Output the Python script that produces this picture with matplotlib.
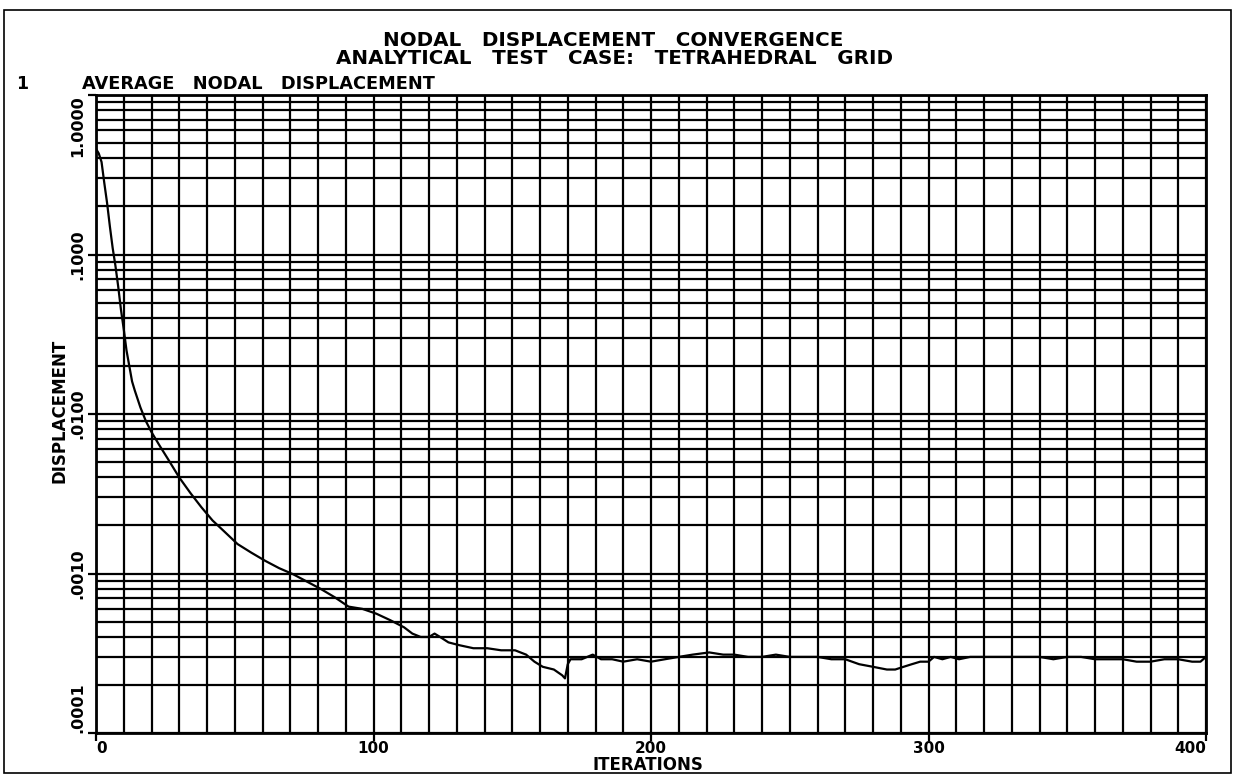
import matplotlib
matplotlib.use("Agg")
import matplotlib.pyplot as plt
from matplotlib.patches import Rectangle
import numpy as np

# ---------------- data ----------------
iterations = [0, 1, 2, 3, 4, 5, 6, 7, 8, 9, 10, 11, 12, 13, 14, 16, 18, 20, 23, 26,
              30, 34, 38, 42, 46, 51, 56, 61, 66, 71, 76, 81, 86, 91, 96, 101, 106,
              111, 114, 117, 120, 122, 124, 127, 131, 136, 141, 146, 151, 155, 158,
              161, 165, 168, 169, 170, 171, 175, 179, 182, 186, 190, 195, 200, 205,
              210, 215, 221, 226, 230, 235, 240, 245, 250, 255, 260, 265, 270, 275,
              280, 285, 288, 291, 294, 297, 300, 302, 305, 308, 311, 315, 320, 325,
              330, 335, 340, 345, 350, 355, 360, 365, 370, 375, 380, 385, 390, 395,
              398, 400]
displacement = [0.46, 0.43, 0.38, 0.28, 0.21, 0.15, 0.11, 0.085, 0.063, 0.045, 0.034,
                0.025, 0.020, 0.016, 0.0140, 0.0110, 0.0090, 0.0077, 0.0063, 0.0052,
                0.0040, 0.0032, 0.0026, 0.00215, 0.00185, 0.00153, 0.00135, 0.00120,
                0.00108, 0.00099, 0.00089, 0.00080, 0.00071, 0.00062, 0.00060, 0.00056,
                0.00051, 0.00046, 0.00042, 0.00040, 0.00040, 0.00042, 0.00040, 0.00037,
                0.000355, 0.00034, 0.00034, 0.00033, 0.00033, 0.00031, 0.00028, 0.00026,
                0.00025, 0.00023, 0.00022, 0.00027, 0.00029, 0.00029, 0.00031, 0.00029,
                0.00029, 0.00028, 0.00029, 0.00028, 0.00029, 0.00030, 0.00031, 0.00032,
                0.00031, 0.00031, 0.00030, 0.00030, 0.00031, 0.00030, 0.00030, 0.00030,
                0.00029, 0.00029, 0.00027, 0.00026, 0.00025, 0.00025, 0.00026, 0.00027,
                0.00028, 0.00028, 0.00030, 0.00029, 0.00030, 0.00029, 0.00030, 0.00030,
                0.00030, 0.00030, 0.00030, 0.00030, 0.00029, 0.00030, 0.00030, 0.00029,
                0.00029, 0.00029, 0.00028, 0.00028, 0.00029, 0.00029, 0.00028, 0.00028,
                0.00030]

x_ticks = [0, 100, 200, 300, 400]
x_tick_labels = ["0", "100", "200", "300", "400"]
y_ticks = [1e-4, 1e-3, 1e-2, 1e-1, 1.0]
y_tick_labels = [".0001", ".0010", ".0100", ".1000", "1.0000"]

title_lines = ["NODAL   DISPLACEMENT   CONVERGENCE",
               "ANALYTICAL   TEST   CASE:   TETRAHEDRAL   GRID"]
curve_number = "1"
curve_name = "AVERAGE   NODAL   DISPLACEMENT"
x_label = "ITERATIONS"
y_label = "DISPLACEMENT"

# ---------------- figure ----------------
plt.rcParams["font.family"] = ["DejaVu Sans"]
plt.rcParams["font.weight"] = "bold"

W, H = 1235, 776
fig = plt.figure(figsize=(W / 100, H / 100), dpi=100)
ax = fig.add_axes([96 / W, 43 / H, 1110 / W, 638 / H])

ax.set_yscale("log")
ax.set_xlim(0, 400)
ax.set_ylim(1e-4, 1.0)

ax.plot(iterations, displacement, color="black", lw=1.6, zorder=5)

# grid
ax.set_xticks(x_ticks)
ax.set_xticks(np.arange(0, 401, 10), minor=True)
ax.set_yticks(y_ticks)
minor_y = [m * 10.0 ** e for e in range(-4, 0) for m in range(2, 10)]
ax.set_yticks(minor_y, minor=True)
ax.grid(which="both", color="black", lw=1.6)
ax.set_axisbelow(True)

for s in ax.spines.values():
    s.set_linewidth(2.0)
    s.set_color("black")

ax.tick_params(axis="x", which="major", length=5.5, width=1.6, direction="out", pad=0.5,
               labelsize=11)
ax.tick_params(axis="y", which="major", length=6, width=1.6, direction="out", pad=1.5,
               labelsize=11.5)
ax.tick_params(which="minor", length=0)

ax.set_xticklabels(x_tick_labels, fontweight="bold")
xl = ax.get_xticklabels()
xl[0].set_ha("left")
xl[-1].set_ha("right")

ax.set_yticklabels(y_tick_labels, rotation=90, fontweight="bold")
yl = ax.get_yticklabels()
for t in yl:
    t.set_va("center")
yl[0].set_va("bottom")
yl[-1].set_va("top")

fig.text(648 / W, 1 - 765 / H, x_label, ha="center", va="center",
         fontsize=12, fontweight="bold")

fig.text(60 / W, 1 - 411 / H, y_label, rotation=90, ha="center", va="center",
         fontsize=12, fontweight="bold")

fig.text(613 / W, 1 - 40 / H, title_lines[0], ha="center", va="center",
         fontsize=14.3, fontweight="bold")
fig.text(615 / W, 1 - 58 / H, title_lines[1], ha="center", va="center",
         fontsize=14.3, fontweight="bold")
fig.text(16 / W, 1 - 84 / H, curve_number, ha="left", va="center",
         fontsize=12.5, fontweight="bold")
fig.text(82 / W, 1 - 84 / H, curve_name, ha="left", va="center",
         fontsize=12.8, fontweight="bold")

fig.add_artist(Rectangle((4 / W, 3 / H), 1227 / W, 763 / H, transform=fig.transFigure,
                         fill=False, lw=1.2, color="black"))

fig.savefig("out.png", dpi=100, facecolor="white")
